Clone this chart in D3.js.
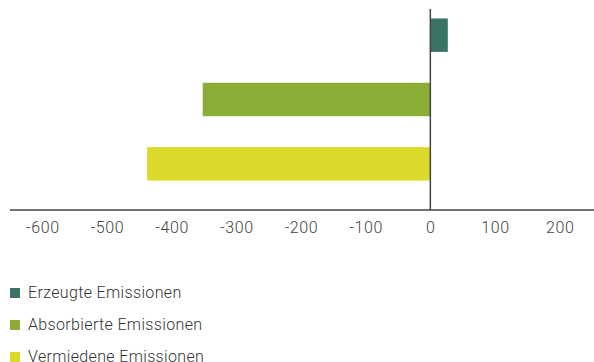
<!DOCTYPE html>
<html>
<head>
    <meta charset="utf-8">
    <title>Emissionen</title>
    <style>
        body { margin: 0; background: #fff; }
        svg text { font-family: Roboto, "Noto Sans", sans-serif; font-weight: 300; fill: #333; }
    </style>
</head>
<body>
    <div id="chart"></div>

    <script src="https://d3js.org/d3.v7.min.js"></script>
    <script>
        // Daten
        const categories = ["Erzeugte Emissionen", "Absorbierte Emissionen", "Vermiedene Emissionen"];
        const values = [27, -352, -438];
        const colors = ["#3a7266", "#8aae35", "#dbda2b"];
        const tickValues = [-600, -500, -400, -300, -200, -100, 0, 100, 200];

        const width = 594, height = 362;
        const axisY = 210;

        const svg = d3.select('#chart')
            .append('svg')
            .attr('width', width)
            .attr('height', height);

        const x = d3.scaleLinear()
            .domain([-650, 250])
            .range([10, 592]);

        const y = d3.scaleBand()
            .domain(categories)
            .range([3, 196])
            .paddingInner(0.48)
            .paddingOuter(0.24);

        // Balken
        svg.append('g')
            .selectAll('rect')
            .data(categories)
            .enter()
            .append('rect')
            .attr('x', (d, i) => x(Math.min(0, values[i])))
            .attr('y', d => y(d))
            .attr('width', (d, i) => Math.abs(x(values[i]) - x(0)))
            .attr('height', y.bandwidth())
            .attr('fill', (d, i) => colors[i]);

        // Nulllinie
        svg.append('line')
            .attr('x1', x(0)).attr('x2', x(0))
            .attr('y1', 9).attr('y2', axisY)
            .style('stroke', '#444')
            .style('stroke-width', 1.5);

        // x-Achse
        const xAxis = svg.append('g')
            .attr('transform', `translate(0,${axisY})`)
            .call(d3.axisBottom(x).tickValues(tickValues).tickSize(0).tickPadding(12)
                .tickFormat(d => d < 0 ? '-' + Math.abs(d) : d));

        xAxis.select('.domain').remove();
        xAxis.append('line')
            .attr('x1', 10).attr('x2', width)
            .style('stroke', '#444')
            .style('stroke-width', 1.5);
        xAxis.selectAll('text')
            .style('font-size', '16px')
            .style('letter-spacing', '0.6px')
            .style('font-family', 'Roboto, "Noto Sans", sans-serif')
            .style('font-weight', 300)
            .style('fill', '#444');

        // Legende
        const legend = svg.append('g')
            .selectAll('g')
            .data(categories)
            .enter()
            .append('g')
            .attr('transform', (d, i) => `translate(10,${288 + i * 32})`);

        legend.append('rect')
            .attr('width', 10)
            .attr('height', 10)
            .attr('fill', (d, i) => colors[i]);

        legend.append('text')
            .attr('x', 18)
            .attr('y', 10)
            .style('font-size', '16px')
            .style('letter-spacing', '0.35px')
            .text(d => d);
    </script>
</body>
</html>
